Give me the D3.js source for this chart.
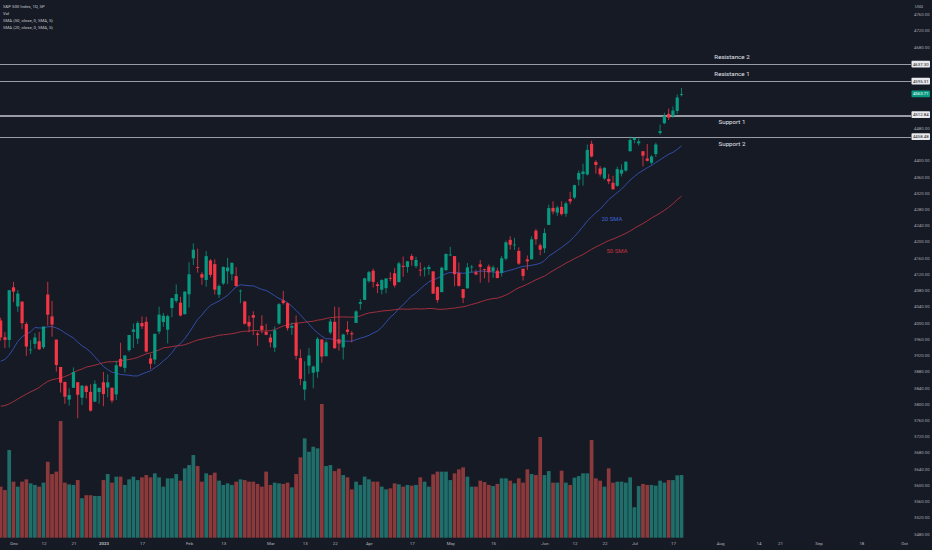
<!DOCTYPE html>
<html><head><meta charset="utf-8">
<script src="https://cdn.jsdelivr.net/npm/d3@7/dist/d3.min.js"></script>
<style>html,body{margin:0;padding:0;background:#161a25;}svg{display:block;}</style>
</head><body>
<svg id="c" width="932" height="550"></svg>
<script>
// ---------- DATA (S&P 500 Index, daily, Nov 28 2022 – Jul 19 2023) ----------
const dates = ["11-28","11-29","11-30",
"12-01","12-02","12-05","12-06","12-07","12-08","12-09","12-12","12-13","12-14","12-15","12-16","12-19","12-20","12-21","12-22","12-23","12-27","12-28","12-29","12-30",
"01-03","01-04","01-05","01-06","01-09","01-10","01-11","01-12","01-13","01-17","01-18","01-19","01-20","01-23","01-24","01-25","01-26","01-27","01-30","01-31",
"02-01","02-02","02-03","02-06","02-07","02-08","02-09","02-10","02-13","02-14","02-15","02-16","02-17","02-21","02-22","02-23","02-24","02-27","02-28",
"03-01","03-02","03-03","03-06","03-07","03-08","03-09","03-10","03-13","03-14","03-15","03-16","03-17","03-20","03-21","03-22","03-23","03-24","03-27","03-28","03-29","03-30","03-31",
"04-03","04-04","04-05","04-06","04-10","04-11","04-12","04-13","04-14","04-17","04-18","04-19","04-20","04-21","04-24","04-25","04-26","04-27","04-28",
"05-01","05-02","05-03","05-04","05-05","05-08","05-09","05-10","05-11","05-12","05-15","05-16","05-17","05-18","05-19","05-22","05-23","05-24","05-25","05-26","05-30","05-31",
"06-01","06-02","06-05","06-06","06-07","06-08","06-09","06-12","06-13","06-14","06-15","06-16","06-20","06-21","06-22","06-23","06-26","06-27","06-28","06-29","06-30",
"07-03","07-05","07-06","07-07","07-10","07-11","07-12","07-13","07-14","07-17","07-18","07-19"];

const opens = [4005.36,3964.19,3957.18,
4087.14,4040.17,4052.02,3996.63,3933.28,3947.79,3954.17,3939.29,4069.38,4015.54,3958.37,3890.91,3853.79,3810.47,3839.49,3853.26,3815.11,3843.34,3829.56,3805.45,3829.06,
3853.29,3840.36,3839.74,3823.37,3910.82,3888.57,3932.35,3977.57,3960.60,3999.28,4002.25,3911.84,3909.04,3978.14,4001.74,3982.71,4036.08,4053.72,4049.27,4020.85,
4070.07,4158.68,4136.69,4119.57,4105.35,4153.47,4144.25,4068.92,4096.62,4126.70,4119.50,4114.75,4077.39,4052.35,4001.83,4018.60,3973.24,3992.36,3977.19,
3963.34,3938.68,3998.02,4055.15,4048.26,3987.55,3998.66,3912.77,3835.12,3894.01,3876.74,3878.93,3958.69,3917.47,3975.89,4002.04,3959.21,3939.21,3982.93,3974.13,3999.53,4046.74,4056.18,
4102.20,4128.03,4094.50,4081.15,4085.20,4110.29,4121.72,4100.04,4140.11,4137.17,4164.26,4139.33,4130.48,4132.14,4132.07,4126.43,4087.78,4075.29,4129.63,
4166.79,4164.10,4122.25,4082.61,4084.73,4136.98,4124.25,4143.74,4132.24,4138.54,4126.65,4127.95,4122.85,4157.68,4204.15,4190.78,4176.80,4132.96,4155.71,4156.16,4226.71,4190.74,
4183.03,4241.01,4282.99,4271.34,4285.47,4268.69,4304.88,4308.32,4352.61,4366.29,4365.33,4440.95,4396.11,4380.01,4355.40,4354.17,4344.84,4337.36,4367.48,4374.94,4422.44,
4450.48,4442.04,4422.62,4404.54,4394.23,4415.55,4467.69,4491.50,4514.61,4508.86,4521.78,4561.50];

const highs = [4012.27,3976.77,4080.11,
4100.51,4080.48,4052.45,4001.51,3957.57,3974.19,3977.02,3990.71,4100.96,4053.76,3958.37,3890.91,3854.86,3838.24,3889.82,3853.26,3845.80,3846.65,3848.32,3858.19,3839.85,
3878.46,3873.16,3839.74,3906.19,3950.57,3919.83,3970.07,3997.76,4003.95,4015.39,4014.16,3922.94,3972.96,4039.31,4023.92,4019.55,4061.57,4094.21,4063.85,4077.16,
4148.95,4195.44,4182.36,4124.63,4176.54,4156.85,4156.23,4094.36,4138.90,4159.77,4148.11,4136.54,4081.51,4052.35,4017.37,4028.30,3978.25,4018.05,3997.50,
3971.73,3990.84,4048.29,4078.49,4050.00,4000.41,4017.81,3934.05,3905.05,3937.29,3894.26,3964.46,3958.91,3956.62,4009.08,4039.49,4038.20,3972.74,4003.83,3979.20,4030.59,4057.85,4110.75,
4127.66,4133.13,4099.69,4107.32,4109.50,4124.26,4134.37,4150.26,4163.19,4151.72,4169.48,4162.57,4148.57,4138.02,4142.41,4126.43,4089.67,4138.24,4170.06,
4186.92,4164.10,4148.30,4082.61,4147.02,4142.30,4130.35,4154.28,4132.80,4143.74,4141.25,4135.54,4164.67,4202.20,4212.91,4209.22,4185.68,4132.96,4165.74,4212.87,4231.10,4195.44,
4232.43,4290.67,4299.28,4288.33,4299.19,4298.01,4322.62,4340.13,4375.37,4391.82,4439.20,4448.47,4400.15,4386.22,4382.25,4366.55,4362.06,4384.42,4390.35,4398.39,4458.48,
4456.46,4454.06,4422.62,4440.39,4412.60,4443.64,4488.34,4517.38,4527.76,4532.85,4562.30,4578.43];

const lows = [3955.77,3937.65,3938.58,
4050.87,4026.63,3984.49,3918.39,3922.68,3935.83,3933.04,3935.30,3993.03,3965.65,3879.45,3827.91,3800.04,3795.62,3839.49,3764.49,3797.01,3813.22,3780.78,3805.45,3800.34,
3794.33,3815.77,3802.42,3809.56,3890.42,3877.29,3928.54,3937.56,3947.67,3984.57,3926.59,3885.54,3897.86,3971.64,3989.79,3949.06,4013.29,4048.70,4015.55,4020.44,
4037.20,4141.88,4123.36,4093.38,4088.39,4111.67,4069.67,4060.79,4092.67,4095.01,4103.98,4089.49,4047.95,3995.19,3976.90,3969.19,3943.08,3973.55,3968.98,
3939.05,3928.16,3995.17,4044.61,3980.31,3969.76,3908.70,3846.32,3808.86,3873.63,3838.24,3864.11,3901.27,3916.89,3971.19,3936.17,3931.21,3909.16,3970.47,3951.53,3999.53,4032.10,4056.18,
4098.79,4086.87,4072.56,4069.84,4072.55,4102.61,4086.94,4099.40,4113.20,4123.18,4140.36,4134.49,4114.57,4113.86,4117.77,4071.38,4049.35,4075.29,4127.18,
4164.12,4089.72,4088.86,4048.28,4084.73,4123.81,4116.65,4098.92,4109.29,4099.12,4110.27,4109.86,4113.62,4153.50,4180.20,4179.68,4142.54,4103.98,4129.73,4156.16,4192.18,4166.15,
4171.64,4241.01,4266.82,4263.09,4263.96,4261.07,4291.70,4304.37,4337.85,4337.85,4362.60,4407.44,4367.19,4360.14,4351.82,4341.34,4328.08,4335.00,4360.22,4371.97,4422.44,
4442.29,4436.61,4385.05,4397.40,4389.92,4408.46,4463.23,4489.36,4499.56,4504.90,4514.59,4557.48];

const closes = [3963.94,3957.63,4080.11,
4076.57,4071.70,3998.84,3941.26,3933.92,3963.51,3934.38,3990.56,4019.65,3995.32,3895.75,3852.36,3817.66,3821.62,3878.44,3822.39,3844.82,3829.25,3783.22,3849.28,3839.50,
3824.14,3852.97,3808.10,3895.08,3892.09,3919.25,3969.61,3983.17,3999.09,3990.97,3928.86,3898.85,3972.61,4019.81,4016.95,4016.22,4060.43,4070.56,4017.77,4076.60,
4119.21,4179.76,4136.48,4111.08,4164.00,4117.86,4081.50,4090.46,4137.29,4136.13,4147.60,4090.41,4079.09,3997.34,3991.05,4012.32,3970.04,3982.24,3970.15,
3951.39,3981.35,4045.64,4048.42,3986.37,3992.01,3918.32,3861.59,3855.76,3919.29,3891.93,3960.28,3916.64,3951.57,4002.87,3936.97,3948.72,3970.99,3977.53,3971.27,4027.81,4050.83,4109.31,
4124.51,4100.60,4090.38,4105.02,4109.11,4108.94,4091.95,4146.22,4137.64,4151.32,4154.87,4154.52,4129.79,4133.52,4137.04,4071.63,4055.99,4135.35,4169.48,
4167.87,4119.58,4090.75,4061.22,4136.25,4138.12,4119.17,4137.64,4130.62,4124.08,4136.28,4109.90,4158.77,4198.05,4191.98,4192.63,4145.58,4115.24,4151.28,4205.45,4205.52,4179.83,
4221.02,4282.37,4273.79,4283.85,4267.52,4293.93,4298.86,4338.93,4369.01,4372.59,4425.84,4409.59,4388.71,4365.69,4381.89,4348.33,4328.82,4378.41,4376.86,4396.44,4450.38,
4455.59,4446.82,4411.59,4398.95,4409.53,4439.26,4472.16,4510.04,4505.42,4522.79,4554.98,4563.71];

// volume, billions
const volumes = [3.57,3.33,6.13,
3.92,3.57,3.92,4.08,3.80,3.69,3.57,3.85,5.31,4.45,4.62,8.16,3.85,3.73,3.69,4.03,2.76,2.97,2.97,2.92,2.92,
4.03,4.45,3.85,4.27,4.27,3.69,4.08,4.27,4.03,4.22,4.38,4.22,4.50,4.22,3.57,4.15,4.15,4.45,3.99,4.85,
5.08,5.78,5.01,3.92,4.50,4.38,4.55,3.99,3.69,3.80,3.69,3.92,4.08,4.03,3.92,3.92,3.76,3.57,4.62,
3.69,3.85,3.80,3.76,3.85,3.52,4.45,5.62,6.95,6.01,6.36,6.25,9.35,5.01,5.08,4.66,4.83,4.38,4.22,3.38,3.92,3.69,4.27,
4.08,3.92,3.92,3.57,3.38,3.45,3.80,3.73,3.57,3.69,3.64,3.69,4.22,3.92,3.57,4.43,4.62,4.62,4.62,
4.03,4.50,4.78,4.92,4.27,3.57,3.57,3.99,3.89,3.69,3.61,3.76,4.15,4.15,3.99,3.80,4.15,3.85,4.78,4.45,4.38,7.04,
4.38,4.66,3.85,3.85,4.69,3.85,3.69,4.20,4.31,4.50,4.50,6.83,4.15,3.99,3.57,4.85,3.85,3.92,3.92,3.85,4.22,
2.13,3.61,3.76,3.69,3.69,3.64,3.99,3.85,4.03,4.03,4.36,4.38];

// closes of the 49 sessions before Nov 28 2022 (Sep 19 – Nov 25), used by the SMAs
const priorCloses = [3899.89,3855.93,3789.93,3757.99,3693.23,3655.04,3647.29,3719.04,3640.47,3585.62,
3678.43,3790.93,3783.28,3744.52,3639.66,3612.39,3588.84,3577.03,3669.91,3583.07,3677.95,3719.98,3695.16,3665.78,3752.75,3797.34,3859.11,3830.60,3807.30,3901.06,3871.98,
3856.10,3759.69,3719.89,3770.55,3806.80,3828.11,3748.57,3956.37,3992.93,3957.25,3991.73,3958.79,3946.56,3965.34,3949.94,4003.58,4027.26,4026.12];

const smaLengths = [20, 50];
const smaLabels = ["20 SMA", "50 SMA"];

const levelNames  = ["Resistance 2", "Resistance 1", "Support 1", "Support 2"];
const levelValues = [4637.30, 4595.31, 4512.84, 4458.48];
const levelLabels = ["4637.30", "4595.31", "4512.84", "4458.48"];
const support1Second = 4510.4; // second line of the doubled Support 1 level

const priceTicks = [3480,3520,3560,3600,3640,3680,3720,3760,3800,3840,3880,3920,3960,4000,4040,4080,4120,4160,4200,4240,4280,4320,4360,4400,4440,4480,4520,4560,4600,4640,4680,4720,4760];
const priceTickLabels = priceTicks.map(v => v.toFixed(2));

// bar index (0 = Nov 28 2022, future sessions continue the count) and labels of time-axis ticks
const timeTickIndex  = [3,10,17,24,33,44,52,63,71,78,86,96,105,115,127,134,141,148,157,168,177,182,191,201,211];
const timeTickLabels = ["Dec","12","21","2023","17","Feb","13","Mar","13","22","Apr","17","May","15","Jun","12","22","Jul","17","Aug","14","21","Sep","18","Oct"];

const legendLines = ["S&P 500 Index, 1D, SP", "Vol", "SMA (50, close, 0, SMA, 5)", "SMA (20, close, 0, SMA, 5)"];

// ---------- DRAWING ----------
const W = 932, H = 550, plotR = 911, plotB = 538;
const UP = "#089981", DOWN = "#f23645";
const FONT = "Roboto, 'Liberation Sans', sans-serif";
const svg = d3.select("#c");
svg.append("rect").attr("width", W).attr("height", H).attr("fill", "#161a25");

const x  = d3.scaleLinear().domain([-0.153, 212.36]).range([0, 910]);
const y  = d3.scaleLinear().domain([3480, 4760]).range([533.7, 14.3]);
const yv = d3.scaleLinear().domain([0, 9.35]).range([537.7, 404]);

svg.append("clipPath").attr("id", "plot").append("rect")
  .attr("x", 0).attr("y", 0).attr("width", plotR).attr("height", plotB);
const g = svg.append("g").attr("clip-path", "url(#plot)");

const bars = closes.map((c, i) => ({i, o: opens[i], h: highs[i], l: lows[i], c, v: volumes[i], up: c >= opens[i]}));

// volume
const vw = 3.7;
g.append("g").selectAll("rect").data(bars).join("rect")
  .attr("x", d => x(d.i) - vw / 2).attr("width", vw)
  .attr("y", d => yv(d.v)).attr("height", d => yv(0) - yv(d.v))
  .attr("fill", d => d.up ? "rgba(38,166,154,0.6)" : "rgba(239,83,80,0.55)");

// level lines
const lineVals = levelValues.concat([support1Second]);
g.append("g").selectAll("line").data(lineVals).join("line")
  .attr("x1", 0).attr("x2", plotR)
  .attr("y1", d => Math.round(y(d)) + 0.5).attr("y2", d => Math.round(y(d)) + 0.5)
  .attr("stroke", "#a9acb4").attr("stroke-width", 0.9);

// SMAs
const allCloses = priorCloses.concat(closes);
const off = priorCloses.length;
const smaColors = ["#3452b4", "#b0313e"];
smaLengths.forEach((n, s) => {
  const pts = closes.map((c, i) => {
    const end = i + off + 1;
    return [i, d3.mean(allCloses.slice(end - n, end))];
  });
  g.append("path").datum(pts)
    .attr("fill", "none").attr("stroke", smaColors[s]).attr("stroke-width", 0.9)
    .attr("d", d3.line().x(d => x(d[0])).y(d => y(d[1])));
});

// candles
const cw = 3.2;
const cg = g.append("g");
cg.selectAll("line").data(bars).join("line")
  .attr("x1", d => x(d.i)).attr("x2", d => x(d.i))
  .attr("y1", d => y(d.h)).attr("y2", d => y(d.l))
  .attr("stroke", d => d.up ? UP : DOWN).attr("stroke-width", 0.8);
cg.selectAll("rect").data(bars).join("rect")
  .attr("x", d => x(d.i) - cw / 2).attr("width", cw)
  .attr("y", d => y(Math.max(d.o, d.c)))
  .attr("height", d => Math.max(0.8, Math.abs(y(d.o) - y(d.c))))
  .attr("fill", d => d.up ? UP : DOWN);

// level names
levelNames.forEach((name, k) => {
  const isRes = k < 2;
  svg.append("text").attr("x", 732).attr("y", y(levelValues[k]) + (isRes ? -5.2 : 9.6))
    .attr("text-anchor", "middle").attr("fill", "#e0e3eb")
    .attr("font-family", FONT).attr("font-size", 6.2).text(name);
});

// SMA labels
svg.append("text").attr("x", 612).attr("y", 220.5).attr("text-anchor", "middle")
  .attr("fill", "#3f63d6").attr("font-family", FONT).attr("font-size", 6).text(smaLabels[0]);
svg.append("text").attr("x", 617).attr("y", 253).attr("text-anchor", "middle")
  .attr("fill", "#c7323f").attr("font-family", FONT).attr("font-size", 6).text(smaLabels[1]);

// price axis
const lastClose = closes[closes.length - 1];
const boxYs = levelValues.map(v => y(v)).concat([y(lastClose)]);
const yAxis = d3.axisRight(y).tickValues(priceTicks)
  .tickFormat((d, i) => priceTickLabels[i]).tickSize(0).tickPadding(3);
const ya = svg.append("g").attr("transform", `translate(${plotR},0)`).call(yAxis);
ya.select(".domain").remove();
ya.selectAll("text").attr("fill", "#a3a6af").attr("font-family", FONT).attr("font-size", 4.3)
  .style("display", d => boxYs.some(b => Math.abs(b - y(d)) < 7.5) ? "none" : null);

svg.append("text").attr("x", 919).attr("y", 7.6).attr("text-anchor", "middle")
  .attr("fill", "#b2b5be").attr("font-family", FONT).attr("font-size", 4.3).text("USD");

// axis boxes
const boxes = levelValues.map((v, k) => ({v, t: levelLabels[k], bg: "#e8e9ec", fg: "#131722"}))
  .concat([{v: lastClose, t: lastClose.toFixed(2), bg: UP, fg: "#ffffff"}]);
const bx = svg.append("g");
boxes.forEach(b => {
  bx.append("rect").attr("x", plotR + 0.5).attr("y", y(b.v) - 3.4).attr("width", 18.5).attr("height", 6.8)
    .attr("rx", 0.8).attr("fill", b.bg);
  bx.append("text").attr("x", plotR + 9.75).attr("y", y(b.v) + 1.5).attr("text-anchor", "middle")
    .attr("fill", b.fg).attr("font-family", FONT).attr("font-size", 4.3).text(b.t);
});

// time axis
const xAxis = d3.axisBottom(x).tickValues(timeTickIndex)
  .tickFormat((d, i) => timeTickLabels[i]).tickSize(0).tickPadding(3.6);
const xa = svg.append("g").attr("transform", `translate(0,${plotB})`).call(xAxis);
xa.select(".domain").remove();
xa.selectAll("text").attr("fill", "#b2b5be").attr("font-family", FONT).attr("font-size", 4.4)
  .attr("font-weight", (d, i) => timeTickLabels[i] === "2023" ? "bold" : null);

// legend
legendLines.forEach((t, k) => {
  svg.append("text").attr("x", 3).attr("y", 8.2 + k * 7).attr("fill", "#c3c6ce")
    .attr("font-family", FONT).attr("font-size", 4.3).text(t);
});
</script>
</body></html>
